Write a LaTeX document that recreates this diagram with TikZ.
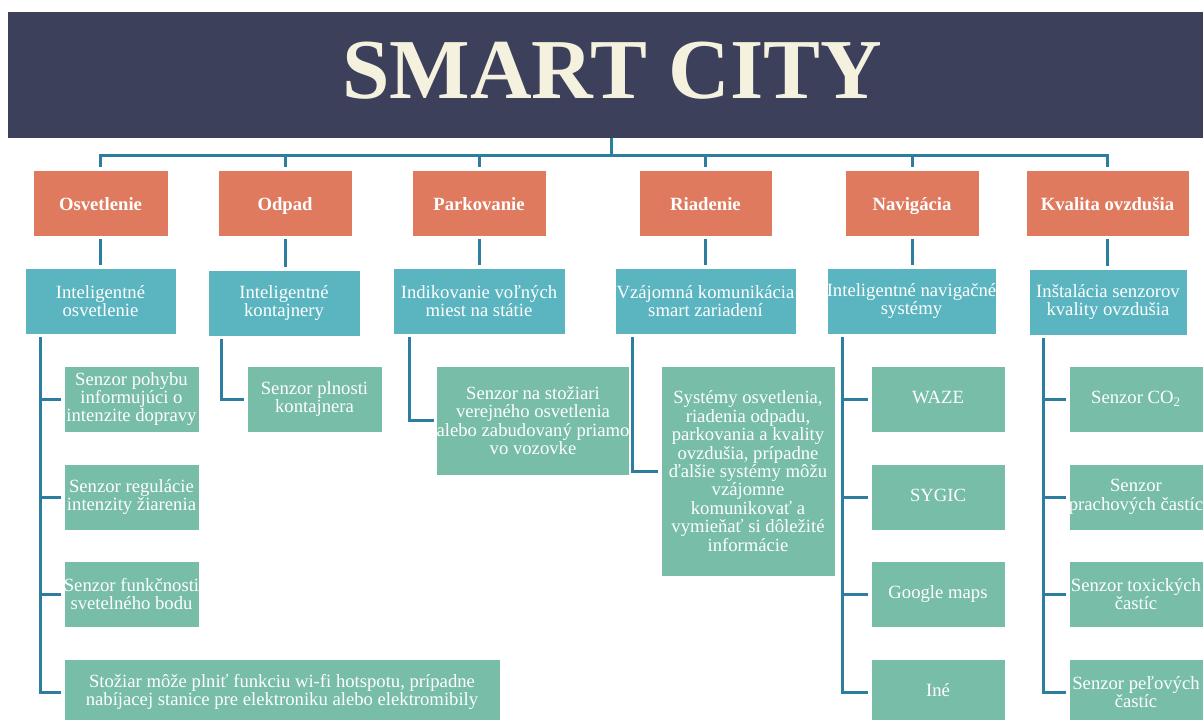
\documentclass[tikz,border=0pt]{standalone}
\usepackage{fontspec}
\setmainfont{Liberation Serif}
\usetikzlibrary{calc}
\definecolor{BannerNavy}{HTML}{3D405B}
\definecolor{TitleCream}{HTML}{F4F1DE}
\definecolor{AreaOrange}{HTML}{E07A5F}
\definecolor{ToolTeal}{HTML}{5BB5C1}
\definecolor{LeafGreen}{HTML}{77BDA7}
\definecolor{LinkBlue}{HTML}{2C7DA0}

\tikzset{
  box/.style={draw=white, line width=0.4pt, text=white, inner sep=0pt, outer sep=2.25pt,
    align=center, minimum height=49.5pt, font=\fontsize{14}{13.8}\selectfont},
  oneline/.style={text height=9.4pt, text depth=3pt},
  areabox/.style={box, fill=AreaOrange, text height=13pt, text depth=2.1pt, font=\fontsize{14}{13.8}\selectfont\bfseries},
  toolbox/.style={box, fill=ToolTeal},
  leafbox/.style={box, fill=LeafGreen},
  link/.style={draw=LinkBlue, line width=2.25pt},
}

\begin{document}
\begin{tikzpicture}[x=0.75pt, y=-0.75pt]
  \useasboundingbox (0,0) rectangle (1203,719);

  % Banner
  \node[fill=BannerNavy, inner sep=0pt, minimum width=896.25pt, minimum height=94.5pt] (banner) at (605.5,75) {};
  \node[text=TitleCream, font=\fontsize{64}{64}\selectfont\bfseries] (title) at (612,71) {SMART CITY};

  % Areas
  \node[areabox, minimum width=101.25pt] (osvA) at (100.5,203) {Osvetlenie};
  \node[areabox, minimum width=100.5pt] (odpA) at (285,203) {Odpad};
  \node[areabox, minimum width=100.5pt] (parkA) at (479,203) {Parkovanie};
  \node[areabox, minimum width=99.75pt] (riadA) at (705.5,203) {Riadenie};
  \node[areabox, minimum width=100.5pt] (navA) at (912,203) {Navigácia};
  \node[areabox, minimum width=122.25pt] (kvalA) at (1107.5,203) {Kvalita ovzdušia};

  % Solutions
  \node[toolbox, minimum width=113.25pt] (osvT) at (100.5,301) {Inteligentné\\osvetlenie};
  \node[toolbox, minimum width=114pt] (odpT) at (284,303) {Inteligentné\\kontajnery};
  \node[toolbox, minimum width=129pt] (parkT) at (479,301) {Indikovanie voľných\\miest na státie};
  \node[toolbox, minimum width=135.75pt] (riadT) at (705.5,301) {Vzájomná komunikácia\\smart zariadení};
  \node[toolbox, minimum width=126.75pt] (navT) at (911.5,301) {Inteligentné navigačné\\systémy};
  \node[toolbox, minimum width=118.5pt] (kvalT) at (1108,302) {Inštalácia senzorov\\kvality ovzdušia};

  % Sensors and devices
  \foreach \y/\n/\t in {399/1/{Senzor pohybu\\informujúci o\\intenzite dopravy}, 497/2/{Senzor regulácie\\intenzity žiarenia}, 594/3/{Senzor funkčnosti\\svetelného bodu}}{
    \node[leafbox, minimum width=101.25pt] (osvL\n) at (131.5,\y) {\t};
  }
  \node[leafbox, minimum width=327pt] (osvL4) at (282,692) {Stožiar môže plniť funkciu wi-fi hotspotu, prípadne\\nabíjacej stanice pre elektroniku alebo elektromibily};
  \node[leafbox, minimum width=101.25pt] (odpL1) at (314.5,399) {Senzor plnosti\\kontajnera};
  \node[leafbox, minimum width=144pt, minimum height=81.75pt] (parkL1) at (533,420.5) {Senzor na stožiari\\verejného osvetlenia\\alebo zabudovaný priamo\\vo vozovke};
  \node[leafbox, minimum width=130.5pt, minimum height=157.5pt] (riadL1) at (748,471) {Systémy osvetlenia,\\riadenia odpadu,\\parkovania a kvality\\ovzdušia, prípadne\\ďalšie systémy môžu\\vzájomne\\komunikovať a\\vymieňať si dôležité\\informácie};
  \foreach \y/\n/\t in {399/1/WAZE, 497/2/SYGIC, 594/3/Google maps, 692/4/Iné}{
    \node[leafbox, oneline, minimum width=100.5pt] (navL\n) at (938,\y) {\t};
  }
  \node[leafbox, oneline, minimum width=100.5pt] (kvalL1) at (1136,399) {Senzor CO\textsubscript{2}};
  \foreach \y/\n/\t in {497/2/{Senzor\\prachových častíc}, 594/3/{Senzor toxických\\častíc}, 692/4/{Senzor peľových\\častíc}}{
    \node[leafbox, minimum width=100.5pt] (kvalL\n) at (1136,\y) {\t};
  }

  % Bus from the banner
  \coordinate (hub) at (611,155);
  \draw[link] (banner.south -| hub) -- (hub);
  \draw[link] (osvA.north) -- (osvA.north |- hub) -- (kvalA.north |- hub) -- (kvalA.north);
  \foreach \c in {odp,park,riad,nav}{
    \draw[link] (\c A.north |- hub) -- (\c A.north);
  }

  % Area to solution
  \foreach \c in {osv,odp,park,riad,nav,kval}{
    \draw[link] (\c A.south) -- (\c A.south |- \c T.north);
  }

  % Spines
  \foreach \c/\dx in {osv/18, odp/16, park/19, riad/20, nav/19, kval/17}{
    \coordinate (\c S) at ($(\c T.south west)+(\dx,0)$);
  }
  \foreach \n in {1,2,3,4}{
    \draw[link] (osvS) |- (osvL\n.west);
    \draw[link] (navS) |- (navL\n.west);
    \draw[link] (kvalS) |- (kvalL\n.west);
  }
  \draw[link] (odpS) |- (odpL1.west);
  \draw[link] (parkS) |- (parkL1.west);
  \draw[link] (riadS) |- (riadL1.west);
\end{tikzpicture}
\end{document}
